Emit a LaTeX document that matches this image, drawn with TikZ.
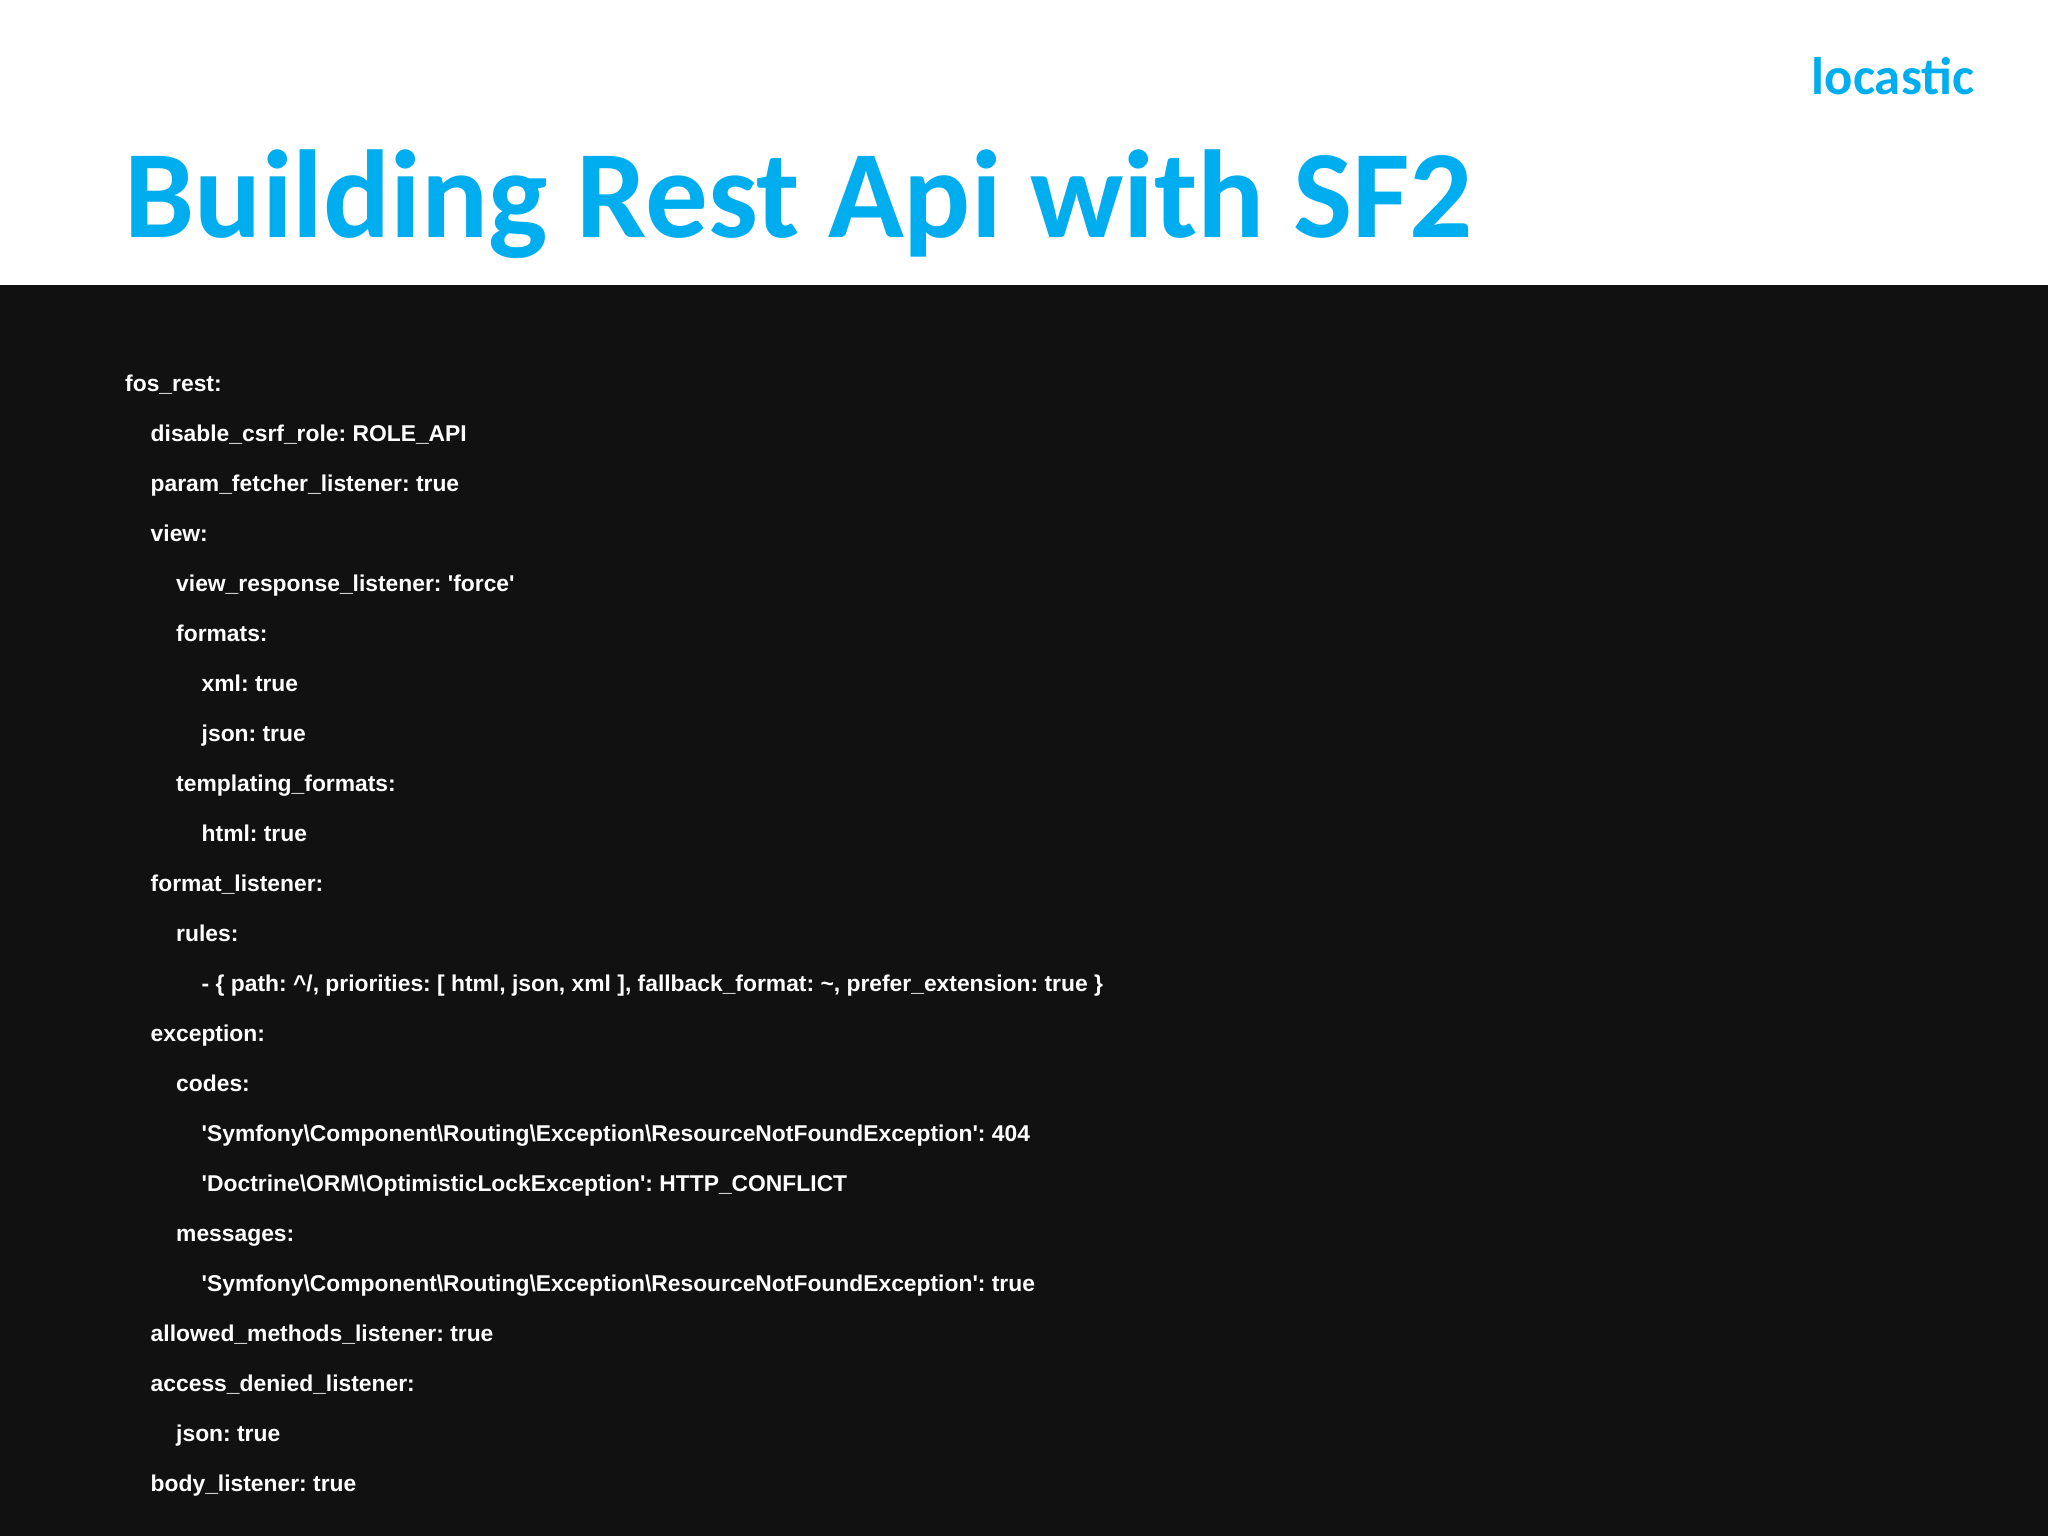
\documentclass[tikz,border=0pt]{standalone}
\usepackage{fontspec}
\setmainfont{Liberation Sans}
\newfontfamily\titlefont{Carlito}
\usetikzlibrary{calc}
\definecolor{lcyan}{HTML}{00AEEF}
\definecolor{slidebg}{HTML}{111111}
\newcommand{\q}{\textquotesingle}
\tikzset{codeline/.style={anchor=base west,inner sep=0pt,text=white,font=\bfseries\frenchspacing\fontsize{6.5}{8}\selectfont}}
\begin{document}
\begin{tikzpicture}
  \useasboundingbox (0,0) rectangle (20.48,15.36);
  \fill[white] (0,0) rectangle (20.48,15.36);
  \fill[slidebg] (0,0) rectangle (20.48,12.51);

  % header
  \node[anchor=base west,inner sep=0pt,text=lcyan,font=\titlefont\bfseries\fontsize{35.6}{40}\selectfont] (title) at (1.24,12.98) {Building Rest Api with SF2};
  \node[anchor=base east,inner sep=0pt,text=lcyan,font=\titlefont\bfseries\fontsize{15}{18}\selectfont] (logo) at (19.75,14.41) {locastic};

  % yaml lines
  \foreach \lvl/\txt [count=\i from 0] in {
    0/{fos\_rest:},
    1/{disable\_csrf\_role: ROLE\_API},
    1/{param\_fetcher\_listener: true},
    1/{view:},
    2/{view\_response\_listener: \q force\q},
    2/{formats:},
    3/{xml: true},
    3/{json: true},
    2/{templating\_formats:},
    3/{html: true},
    1/{format\_listener:},
    2/{rules:},
    3/{- \{ path: \textasciicircum/, priorities: [ html, json, xml ], fallback\_format: \textasciitilde, prefer\_extension: true \}},
    1/{exception:},
    2/{codes:},
    3/{\q Symfony\textbackslash Component\textbackslash Routing\textbackslash Exception\textbackslash ResourceNotFoundException\q: 404},
    3/{\q Doctrine\textbackslash ORM\textbackslash OptimisticLockException\q: HTTP\_CONFLICT},
    2/{messages:},
    3/{\q Symfony\textbackslash Component\textbackslash Routing\textbackslash Exception\textbackslash ResourceNotFoundException\q: true},
    1/{allowed\_methods\_listener: true},
    1/{access\_denied\_listener:},
    2/{json: true},
    1/{body\_listener: true}}
    \node[codeline] (line\i) at ({1.245+0.255*\lvl},{11.44-0.5*\i}) {\txt};
\end{tikzpicture}
\end{document}
